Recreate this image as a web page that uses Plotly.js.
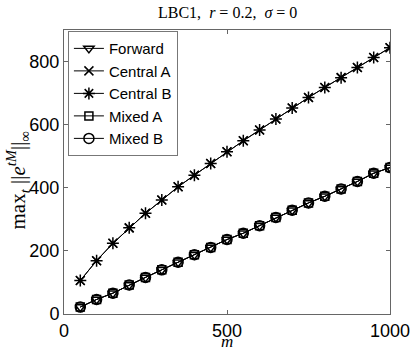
<!DOCTYPE html>
<html><head><meta charset="utf-8">
<script src="https://cdn.plot.ly/plotly-3.0.1.min.js"></script>
<style>html,body{margin:0;padding:0;background:#fff}#c{width:415px;height:351px}</style>
</head><body><div id="c"></div>
<script>
const m = [50,100,150,200,250,300,350,400,450,500,550,600,650,700,750,800,850,900,950,1000];
const centralVals = [106,169,224,273,319,361,403,440,477,514,549,583,618,653,686,718,749,781,813,844];
const lowerVals = [22,46,66,92,116,140,164,188,211,236,256,280,306,329,352,373,396,420,446,464];
const seriesNames = ['Forward','Central A','Central B','Mixed A','Mixed B'];
const seriesData = [lowerVals, centralVals, centralVals, lowerVals, lowerVals];
const symbols = ['triangle-down-open','x-thin-open','asterisk-open','square-open','circle-open'];
const sizes = [9,9,10,8,10];
const titleText = 'LBC1,  <i>r</i> = 0.2,  <i>σ</i> = 0';
const xTitle = '<i>m</i>';
const yTitle = 'max<sub><i>t</i></sub> ||<i>e</i><sup><i>tM</i></sup>||<sub>∞</sub>';

const traces = seriesNames.map((n,i)=>({
  x: m, y: seriesData[i], name: n, type:'scatter', mode:'lines+markers',
  line:{color:'#000', width:1},
  marker:{symbol:symbols[i], size:sizes[i], color:'#000', line:{color:'#000', width:1.5}}
}));

const axisCommon = {showgrid:false, zeroline:false, showline:true, linecolor:'#666', linewidth:1,
  mirror:'ticks', ticks:'inside', ticklen:4, tickcolor:'#666',
  tickfont:{family:'Liberation Sans, Arial, sans-serif', size:18, color:'#000'}};

const layout = {
  width:415, height:351, paper_bgcolor:'#fff', plot_bgcolor:'#fff',
  margin:{l:64, r:25, t:30, b:37},
  showlegend:true,
  legend:{x:0.012, y:0.996, xanchor:'left', yanchor:'top', bgcolor:'#fff',
    bordercolor:'#777', borderwidth:1,
    font:{family:'Liberation Sans, Arial, sans-serif', size:15, color:'#000'},
    itemwidth:30, tracegroupgap:0},
  xaxis: Object.assign({}, axisCommon, {range:[0,1000], tickvals:[0,500,1000], ticktext:['0','500','1000']}),
  yaxis: Object.assign({}, axisCommon, {range:[0,900], tickvals:[0,200,400,600,800], ticktext:['0','200','400','600','800']}),
  annotations:[
    {text:titleText, xref:'paper', yref:'paper', x:0.5, y:1, yshift:18, xanchor:'center', yanchor:'middle', showarrow:false,
     font:{family:'Liberation Serif, DejaVu Serif, serif', size:16, color:'#000'}},
    {text:xTitle, xref:'paper', yref:'paper', x:0.5, y:0, yshift:-27, xanchor:'center', yanchor:'middle', showarrow:false,
     font:{family:'Liberation Serif, DejaVu Serif, serif', size:17, color:'#000'}},
    {text:yTitle, xref:'paper', yref:'paper', x:0, xshift:-46, y:0.47, xanchor:'center', yanchor:'middle', showarrow:false, textangle:-90,
     font:{family:'Liberation Serif, DejaVu Serif, serif', size:21, color:'#000'}}
  ]
};
Plotly.newPlot('c', traces, layout, {staticPlot:true, displayModeBar:false});
</script></body></html>
